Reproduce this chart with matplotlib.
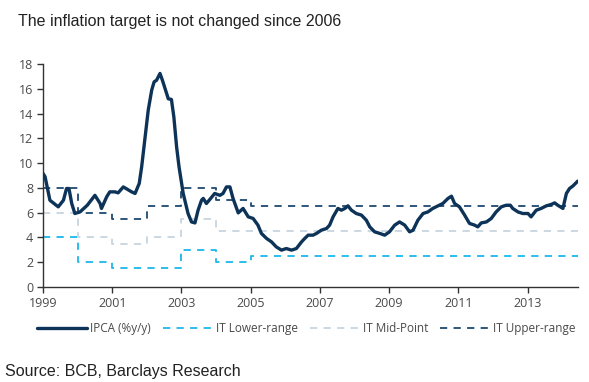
import matplotlib
matplotlib.use("Agg")
import matplotlib.pyplot as plt

# IPCA (decimal year on the chart's axis, % y/y)
ipca_years = [1999.00, 1999.06, 1999.20, 1999.44, 1999.59, 1999.68, 1999.75, 1999.83,
              1999.92, 2000.07, 2000.28, 2000.50, 2000.65, 2000.69, 2000.84, 2000.93,
              2001.08, 2001.17, 2001.32, 2001.56, 2001.66, 2001.78, 2001.85, 2001.94,
              2002.04, 2002.14, 2002.21, 2002.28, 2002.38, 2002.45, 2002.54, 2002.62,
              2002.71, 2002.78, 2002.86, 2002.93, 2003.05, 2003.19, 2003.29, 2003.39,
              2003.48, 2003.58, 2003.63, 2003.72, 2003.82, 2003.96, 2004.11, 2004.20,
              2004.30, 2004.40, 2004.49, 2004.64, 2004.78, 2004.93, 2005.07, 2005.21,
              2005.31, 2005.46, 2005.60, 2005.74, 2005.89, 2006.03, 2006.18, 2006.32,
              2006.47, 2006.56, 2006.66, 2006.80, 2006.90, 2007.04, 2007.19, 2007.28,
              2007.38, 2007.52, 2007.62, 2007.72, 2007.81, 2007.91, 2008.05, 2008.20,
              2008.34, 2008.44, 2008.58, 2008.73, 2008.87, 2009.01, 2009.16, 2009.30,
              2009.45, 2009.59, 2009.69, 2009.83, 2009.98, 2010.12, 2010.26, 2010.41,
              2010.55, 2010.70, 2010.80, 2010.89, 2011.03, 2011.18, 2011.32, 2011.47,
              2011.56, 2011.66, 2011.81, 2011.95, 2012.09, 2012.24, 2012.38, 2012.50,
              2012.57, 2012.72, 2012.86, 2013.01, 2013.10, 2013.25, 2013.39, 2013.54,
              2013.68, 2013.78, 2013.87, 2014.02, 2014.12, 2014.21, 2014.31, 2014.45]
ipca = [9.17, 8.90, 7.00, 6.47, 7.00, 7.95, 7.95, 6.74,
        5.93, 6.06, 6.60, 7.40, 6.74, 6.34, 7.28, 7.68,
        7.68, 7.60, 8.08, 7.68, 7.55, 8.36, 9.70, 11.86,
        14.28, 15.90, 16.57, 16.70, 17.25, 16.70, 15.90, 15.20,
        15.15, 13.74, 11.30, 9.70, 7.55, 5.93, 5.25, 5.17,
        6.20, 7.00, 7.15, 6.74, 7.07, 7.55, 7.40, 7.55,
        8.08, 8.08, 7.15, 5.98, 6.34, 5.66, 5.53, 4.99,
        4.32, 3.91, 3.64, 3.23, 2.97, 3.10, 2.97, 3.10,
        3.64, 3.91, 4.18, 4.18, 4.32, 4.58, 4.72, 4.99,
        5.66, 6.34, 6.20, 6.34, 6.55, 6.20, 5.93, 5.80,
        5.39, 4.85, 4.45, 4.32, 4.18, 4.45, 4.99, 5.25,
        4.99, 4.45, 4.58, 5.39, 5.93, 6.06, 6.34, 6.55,
        6.74, 7.15, 7.33, 6.74, 6.47, 5.80, 5.13, 4.99,
        4.85, 5.17, 5.25, 5.53, 6.06, 6.47, 6.60, 6.60,
        6.34, 6.06, 5.93, 5.93, 5.66, 6.20, 6.34, 6.55,
        6.66, 6.79, 6.60, 6.34, 7.55, 7.95, 8.16, 8.55]

# inflation target bands, each level holds from its year on
target_years = [1999, 2000, 2001, 2002, 2003, 2004, 2005, 2014.45]
it_lower = [4, 2, 1.5, 1.5, 3, 2, 2.5, 2.5]
it_mid = [6, 4, 3.5, 4, 5.5, 4.5, 4.5, 4.5]
it_upper = [8, 6, 5.5, 6.5, 8, 7, 6.5, 6.5]

year_ticks = [1999, 2001, 2003, 2005, 2007, 2009, 2011, 2013]

fig = plt.figure(figsize=(5.89, 3.82), dpi=100)
ax = fig.add_axes([0.073, 0.249, 0.908, 0.583])

ax.plot(ipca_years, ipca, color="#0d3358", lw=2.4, solid_capstyle="round",
        label="IPCA (%y/y)", zorder=5)
ax.plot(target_years, it_lower, color="#1ab7ea", lw=1.3, ls=(0, (4, 3.5)),
        drawstyle="steps-post", label="IT Lower-range")
ax.plot(target_years, it_mid, color="#c8d5df", lw=1.3, ls=(0, (4, 3.5)),
        drawstyle="steps-post", label="IT Mid-Point")
ax.plot(target_years, it_upper, color="#1f4a70", lw=1.3, ls=(0, (4, 3.5)),
        drawstyle="steps-post", label="IT Upper-range")

ax.set_xlim(1999, 2014.45)
ax.set_ylim(0, 18)
ax.set_yticks(range(0, 19, 2))
ax.set_xticks(year_ticks)
ax.set_xticklabels([str(y) for y in year_ticks])
for side in ["top", "right"]:
    ax.spines[side].set_visible(False)
for side in ["left", "bottom"]:
    ax.spines[side].set_color("#333333")
    ax.spines[side].set_linewidth(1.0)
ax.tick_params(axis="both", direction="out", length=4, width=1.0, color="#333333",
               labelsize=9, labelcolor="#4a4a4a", pad=3)
for lab in ax.get_xticklabels() + ax.get_yticklabels():
    lab.set_family("Open Sans")

leg = fig.legend(loc="center", bbox_to_anchor=(0.52, 0.139), ncol=4, frameon=False,
                 handlelength=4.2, handletextpad=0.3, columnspacing=1.0,
                 prop={"family": "Open Sans", "size": 8.5})
for t in leg.get_texts():
    t.set_color("#4a4a4a")

fig.text(0.031, 0.945, "The inflation target is not changed since 2006",
         family="Liberation Sans", fontsize=11.5, color="#222222", va="center")
fig.text(0.009, 0.027, "Source: BCB, Barclays Research",
         family="Liberation Sans", fontsize=11.5, color="#222222", va="center")

fig.savefig("out.png", dpi=100)
plt.close()
